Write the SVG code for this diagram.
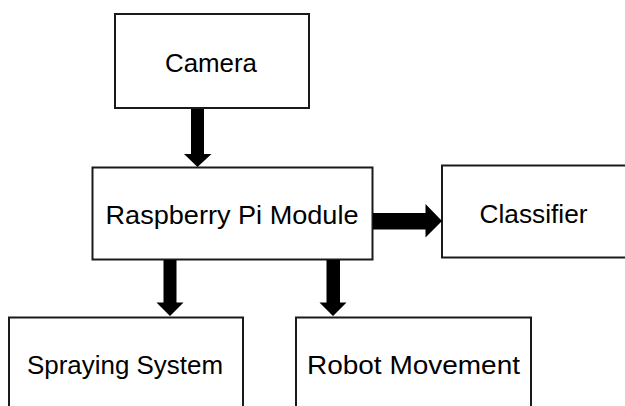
<svg xmlns="http://www.w3.org/2000/svg" width="625" height="406" viewBox="0 0 625 406">
<style>
.box{fill:#fff;stroke:#1a1a1a;stroke-width:2}
.lbl{font-family:"Liberation Sans",Arial,sans-serif;font-size:26px;fill:#000;text-anchor:middle}
.arr{fill:#000}
</style>
<rect width="625" height="406" fill="#fff"/>
<g id="camera">
<rect class="box" x="115" y="14" width="194" height="94"/>
<text class="lbl" x="211" y="72" textLength="92" lengthAdjust="spacingAndGlyphs">Camera</text>
</g>
<g id="raspberry">
<rect class="box" x="92.5" y="167.5" width="280" height="92"/>
<text class="lbl" x="232" y="224" textLength="253" lengthAdjust="spacingAndGlyphs">Raspberry Pi Module</text>
</g>
<g id="classifier">
<rect class="box" x="442" y="165.5" width="190" height="92"/>
<text class="lbl" x="533.5" y="223" textLength="108" lengthAdjust="spacingAndGlyphs">Classifier</text>
</g>
<g id="spraying">
<rect class="box" x="9" y="317.5" width="234" height="100"/>
<text class="lbl" x="125" y="374" textLength="196" lengthAdjust="spacingAndGlyphs">Spraying System</text>
</g>
<g id="robot">
<rect class="box" x="296" y="317.5" width="235" height="100"/>
<text class="lbl" x="413.5" y="374" textLength="213" lengthAdjust="spacingAndGlyphs">Robot Movement</text>
</g>
<g id="connectors">
<polygon class="arr" points="191,109 204,109 204,154 211.5,154 197.5,167 184,154 191,154"/>
<polygon class="arr" points="373,213 425.5,213 425.5,204 442,221 425.5,237.5 425.5,229.5 373,229.5"/>
<polygon class="arr" points="163.5,260 176.5,260 176.5,302.5 183.5,302.5 170,316 156.5,302.5 163.5,302.5"/>
<polygon class="arr" points="326.5,260 340,260 340,302.5 346.5,302.5 333,316 319.5,302.5 326.5,302.5"/>
</g>
</svg>
